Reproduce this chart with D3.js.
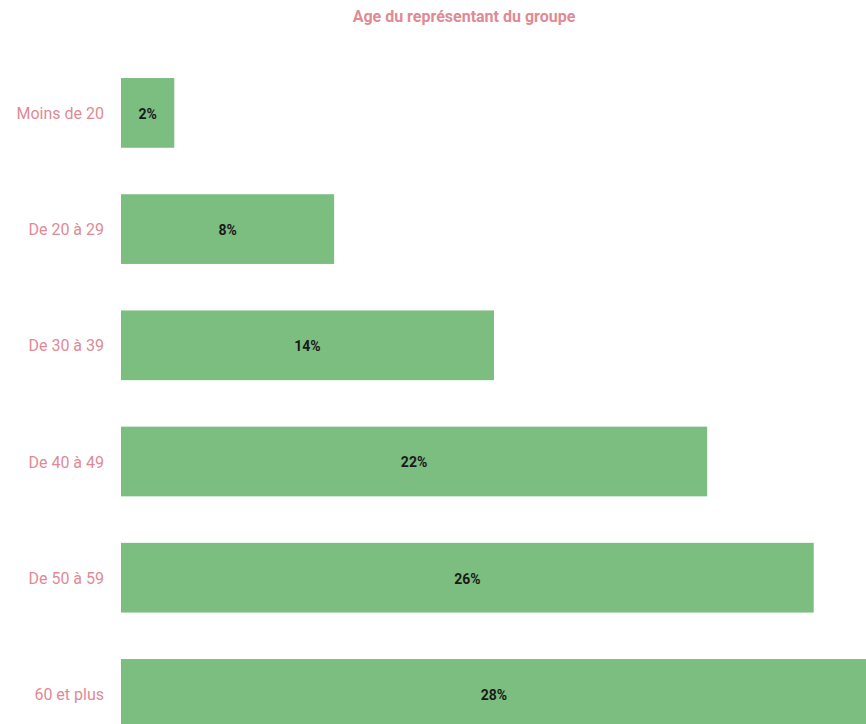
<!DOCTYPE html>
<html>
<head>
<meta charset="utf-8">
<script src="https://cdn.jsdelivr.net/npm/d3@7"></script>
<style>
  html, body { margin: 0; padding: 0; background: #fff; overflow: hidden; }
  svg { display: block; }
</style>
</head>
<body>
<script>
// Age groups and their share of group representatives (%)
const categories = ["Moins de 20", "De 20 à 29", "De 30 à 39", "De 40 à 49", "De 50 à 59", "60 et plus"];
const shares = [2, 8, 14, 22, 26, 28];
const titleText = "Age du représentant du groupe";

const width = 866, height = 724;
const pink = "#e08a96";
const green = "#7cbe80";

const svg = d3.select("body").append("svg")
  .attr("width", width)
  .attr("height", height);

const data = categories.map((c, i) => ({ cat: c, value: shares[i] }));

const x = d3.scaleLinear()
  .domain([0, 28])
  .range([121, 867]);

const y = d3.scaleBand()
  .domain(categories)
  .range([54.8, 54.8 + 6 * 116.2])
  .paddingInner(0.4)
  .paddingOuter(0.2);

// Title
svg.append("text")
  .attr("x", 464)
  .attr("y", 22)
  .attr("text-anchor", "middle")
  .attr("font-family", "Roboto, sans-serif")
  .attr("font-weight", "bold")
  .attr("font-size", 16)
  .attr("fill", pink)
  .text(titleText);

// Bars
svg.append("g")
  .selectAll("rect")
  .data(data)
  .join("rect")
  .attr("x", x(0))
  .attr("y", d => y(d.cat))
  .attr("width", d => x(d.value) - x(0))
  .attr("height", y.bandwidth())
  .attr("fill", green);

// Value labels centred in each bar
svg.append("g")
  .selectAll("text")
  .data(data)
  .join("text")
  .attr("x", d => (x(0) + x(d.value)) / 2)
  .attr("y", d => y(d.cat) + y.bandwidth() / 2 + 1)
  .attr("dy", "0.35em")
  .attr("text-anchor", "middle")
  .attr("font-family", "Roboto, sans-serif")
  .attr("font-weight", "bold")
  .attr("font-size", 14)
  .attr("fill", "#1a1a1a")
  .text(d => d.value + "%");

// Category axis on the left
const yAxis = svg.append("g")
  .attr("transform", `translate(${x(0)},1)`)
  .call(d3.axisLeft(y).tickSize(0).tickPadding(17));
yAxis.select(".domain").remove();
yAxis.selectAll("text")
  .attr("font-family", "Roboto, sans-serif")
  .attr("font-size", 16)
  .attr("fill", pink);
</script>
</body>
</html>
